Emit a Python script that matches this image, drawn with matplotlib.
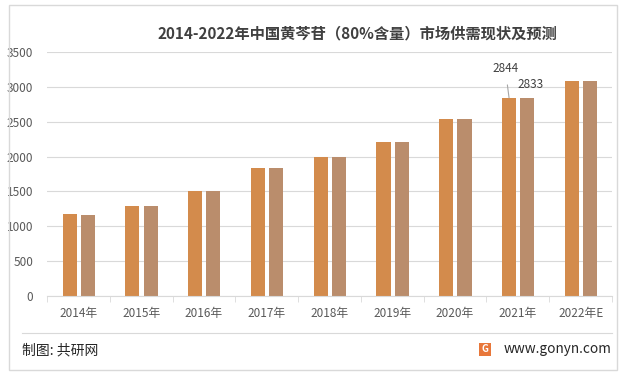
import numpy as np
import matplotlib.pyplot as plt
from matplotlib.patches import Rectangle

plt.rcParams['font.family'] = ['Noto Sans CJK SC', 'DejaVu Sans']

years = ["2014年", "2015年", "2016年", "2017年", "2018年", "2019年", "2020年", "2021年", "2022年E"]
supply = [1180, 1298, 1510, 1840, 1998, 2215, 2543, 2844, 3090]
demand = [1165, 1296, 1506, 1836, 1990, 2212, 2535, 2833, 3088]

fig = plt.figure(figsize=(6.22, 3.78), dpi=100)
W, H = 622, 378

# outer frame
fig.patches.append(Rectangle((9 / W, 1 - 370 / H), 608 / W, 365 / H, transform=fig.transFigure,
                             fill=False, edgecolor='#d9d9d9', linewidth=1))

ax = fig.add_axes([47 / W, 1 - 296 / H, 565 / W, 244 / H])
x = np.arange(len(years))
ax.bar(x - 0.14, supply, width=0.225, color='#D38B4C')
ax.bar(x + 0.15, demand, width=0.225, color='#BA8D6C')

ax.set_ylim(0, 3500)
ax.set_xlim(-0.5, len(years) - 0.5)
ax.set_yticks(range(0, 3501, 500))
ax.yaxis.grid(True, color='#d9d9d9', linewidth=0.8)
ax.set_axisbelow(True)
for s in ['top', 'right', 'left']:
    ax.spines[s].set_visible(False)
ax.spines['bottom'].set_color('#d9d9d9')
ax.tick_params(axis='y', length=0, labelsize=8.5, labelcolor='#595959', pad=10)
for t in ax.get_yticklabels():
    t.set_fontweight('medium')
ax.set_xticks(x)
ax.set_xticklabels(years, fontsize=8.5, color='#595959', fontweight='medium')
ax.tick_params(axis='x', length=0, pad=8)
ax.set_xticks(np.arange(-0.5, len(years)), minor=True)
ax.tick_params(axis='x', which='minor', length=4, color='#d9d9d9')

ax.annotate(str(supply[7]), xy=(7 - 0.14, supply[7]), xytext=(7 - 0.2, 3260),
            fontsize=8.5, color='#404040', ha='center', va='center', fontweight='medium',
            arrowprops=dict(arrowstyle='-', color='#a6a6a6', lw=0.8, shrinkA=5, shrinkB=0))
ax.text(7 + 0.2, 3040, str(demand[7]), fontsize=8.5, color='#404040', ha='center', va='center',
        fontweight='medium')

fig.text(357 / W, 1 - 33 / H, "2014-2022年中国黄芩苷（80%含量）市场供需现状及预测", ha='center', va='center',
         fontsize=11, fontweight='bold', color='#404040')

# footer
fig.add_artist(plt.Line2D([22 / W, 612 / W], [1 - 333 / H, 1 - 333 / H], color='#d9d9d9', lw=0.8))
fig.text(22 / W, 1 - 350 / H, "制图: 共研网", ha='left', va='center', fontsize=10, color='#262626')
fig.text(611 / W, 1 - 349 / H, "www.gonyn.com", ha='right', va='center', fontsize=9.8, color='#262626')
fig.patches.append(Rectangle((479 / W, 1 - 356 / H), 12 / W, 13 / H, transform=fig.transFigure,
                             facecolor='#E8773A', edgecolor='none'))
fig.text(485 / W, 1 - 349.5 / H, "G", ha='center', va='center', fontsize=7, fontweight='bold', color='white')

fig.savefig("out.png", dpi=100)
